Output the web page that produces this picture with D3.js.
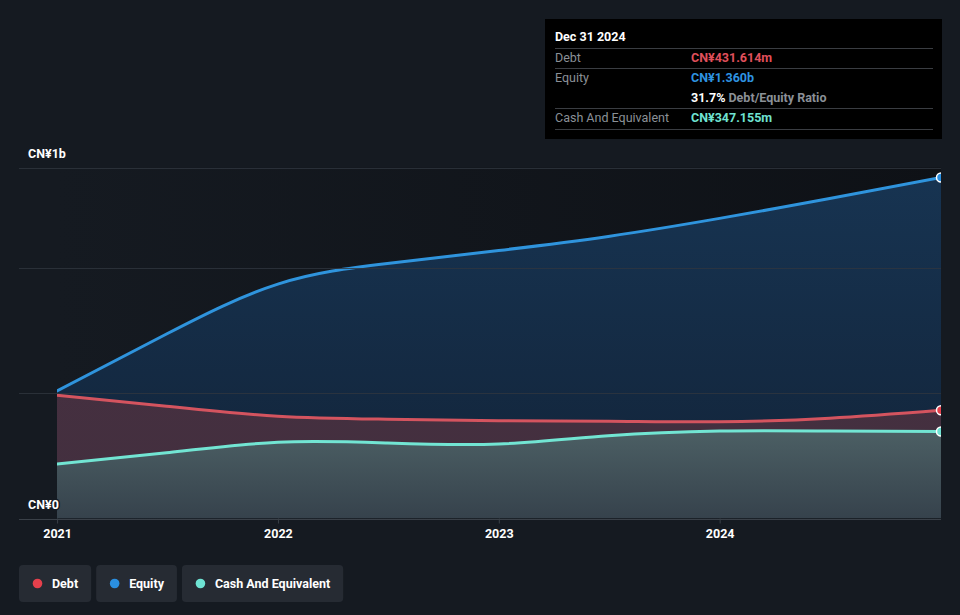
<!DOCTYPE html>
<html><head><meta charset="utf-8">
<script src="https://cdn.jsdelivr.net/npm/d3@7"></script>
<style>
html,body{margin:0;padding:0;background:#151a21;}
svg{display:block;font-family:Roboto,"Noto Sans",sans-serif;}
</style></head>
<body>
<svg id="c" width="960" height="615"></svg>
<script>
const dates = ["2020-12-31","2021-06-30","2021-12-31","2022-06-30","2022-12-31","2023-06-30","2023-12-31","2024-06-30","2024-12-31"];
const debt   = [492, 448, 408, 396, 390, 388, 386, 400, 431.614];   // CN¥ m
const equity = [509, 736, 935, 1017, 1069, 1125, 1197, 1276, 1360]; // CN¥ m
const cash   = [217, 262, 304, 301, 297, 330, 349, 349, 347.155];   // CN¥ m
const gridValues = [0, 500, 1000, 1400];
const yLabels = [{v:1400, t:"CN¥1b"}, {v:0, t:"CN¥0"}];
const xTickYears = ["2021","2022","2023","2024"];
const tooltipTitle = "Dec 31 2024";
const tooltipRows = [
  {label:"Debt", value:"CN¥431.614m", key:"debt"},
  {label:"Equity", value:"CN¥1.360b", key:"equity"},
  {label:"", value:"31.7%", extra:" Debt/Equity Ratio", key:"ratio"},
  {label:"Cash And Equivalent", value:"CN¥347.155m", key:"cash"}
];
const legendItems = [
  {name:"Debt", key:"debt"},
  {name:"Equity", key:"equity"},
  {name:"Cash And Equivalent", key:"cash"}
];

const colors = {debt:"#e0505c", equity:"#2e93e0", cash:"#6fe3d2", ratio:"#ffffff"};
const lineColors = {debt:"#d4545f", equity:"#2f94dd", cash:"#72e5d3"};
const dotColors = {debt:"#e5404c", equity:"#2a8fe0", cash:"#6ee3d3"};

const parse = d3.timeParse("%Y-%m-%d");
const data = dates.map((d,i)=>({date:parse(d), debt:debt[i], equity:equity[i], cash:cash[i]}));

const svg = d3.select("#c");
const x = d3.scaleTime().domain([parse("2020-12-31"), parse("2024-12-31")]).range([57, 941]);
const y = d3.scaleLinear().domain([0, 1400]).range([518.5, 167.5]);
const plotL = 19, plotR = 941;

const defs = svg.append("defs");
const bgGrad = defs.append("linearGradient").attr("id","bgG").attr("x1","0").attr("x2","1").attr("y1","0").attr("y2","0");
bgGrad.append("stop").attr("offset","0").attr("stop-color","#151a21");
bgGrad.append("stop").attr("offset","1").attr("stop-color","#0e1116");
function vGrad(id, top, bottom, y1, y2){
  const g = defs.append("linearGradient").attr("id",id).attr("gradientUnits","userSpaceOnUse")
    .attr("x1",0).attr("x2",0).attr("y1",y1).attr("y2",y2);
  g.append("stop").attr("offset","0").attr("stop-color",top);
  g.append("stop").attr("offset","1").attr("stop-color",bottom);
}
vGrad("eqG","#173452","#122338", y(1400), y(0));
vGrad("dbG","#4a3143","#422f3e", y(1400), y(0));
vGrad("caG","#506569","#36424c", y(420), y(0));
defs.append("clipPath").attr("id","clip").append("rect")
  .attr("x", x.range()[0]).attr("y", 150).attr("width", plotR - x.range()[0]).attr("height", y(0)-150);

// dark plot background
svg.append("rect").attr("x", x.range()[0]).attr("y", y(1400)).attr("width", plotR - x.range()[0])
  .attr("height", y(0)-y(1400)).attr("fill","url(#bgG)");

const curve = d3.curveNatural;
const g = svg.append("g").attr("clip-path","url(#clip)");
g.append("path").datum(data).attr("fill","url(#eqG)")
  .attr("d", d3.area().curve(curve).x(d=>x(d.date)).y0(d=>y(d.debt)).y1(d=>y(d.equity)));
g.append("path").datum(data).attr("fill","url(#dbG)")
  .attr("d", d3.area().curve(curve).x(d=>x(d.date)).y0(d=>y(d.cash)).y1(d=>y(d.debt)));
g.append("path").datum(data).attr("fill","url(#caG)")
  .attr("d", d3.area().curve(curve).x(d=>x(d.date)).y0(y(0)).y1(d=>y(d.cash)));

// grid
svg.append("g").selectAll("line").data(gridValues).join("line")
  .attr("x1", plotL).attr("x2", plotR).attr("y1", d=>Math.round(y(d))+0.5).attr("y2", d=>Math.round(y(d))+0.5)
  .attr("stroke", d=> d===0 ? "#3a4048" : "#30363e").attr("stroke-width",1)
  .attr("stroke-opacity", d=> d===0 ? 1 : 0.8);

// lines
["cash","debt","equity"].forEach(k=>{
  g.append("path").datum(data).attr("fill","none").attr("stroke", lineColors[k]).attr("stroke-width",3)
    .attr("stroke-linecap","round")
    .attr("d", d3.line().curve(curve).x(d=>x(d.date)).y(d=>y(d[k])));
});
// end markers
const last = data[data.length-1];
["cash","debt","equity"].forEach(k=>{
  g.append("circle").attr("cx", x(last.date)).attr("cy", y(last[k])).attr("r",4.5)
    .attr("fill", dotColors[k]).attr("stroke","#ffffff").attr("stroke-width",1.5);
});

// x axis ticks
const xa = svg.append("g");
xTickYears.forEach(yr=>{
  const xv = x(parse(yr+"-01-01"));
  xa.append("line").attr("x1",xv).attr("x2",xv).attr("y1",y(0)).attr("y2",y(0)+5).attr("stroke","#3a4048");
  xa.append("text").attr("x",xv).attr("y",538).attr("text-anchor","middle").attr("fill","#ffffff")
    .attr("font-size",12.5).attr("font-weight",700).text(yr);
});

// y labels
yLabels.forEach(l=>{
  svg.append("text").attr("x",28).attr("y", y(l.v)-9.5)
    .attr("fill","#ffffff").attr("font-size",12.5).attr("font-weight",700)
    .attr("stroke","#151a21").attr("stroke-width",3).attr("paint-order","stroke")
    .text(l.t);
});

// tooltip
const tt = svg.append("g");
tt.append("rect").attr("x",545).attr("y",19).attr("width",397).attr("height",120).attr("fill","#000000");
tt.append("text").attr("x",555).attr("y",41).attr("fill","#ffffff").attr("font-size",12.5).attr("font-weight",700).text(tooltipTitle);
[48.5, 68.5, 108.5, 129.5].forEach(yy=>{
  tt.append("line").attr("x1",555).attr("x2",933).attr("y1",yy).attr("y2",yy).attr("stroke","#3a3d42").attr("stroke-width",1.2);
});
const rowY = [62, 82, 101.5, 121.5];
tooltipRows.forEach((r,i)=>{
  if(r.label) tt.append("text").attr("x",555).attr("y",rowY[i]).attr("fill","#8b9097").attr("font-size",12.5).text(r.label);
  const t = tt.append("text").attr("x",691).attr("y",rowY[i]).attr("font-size",12.5).attr("font-weight",700);
  t.append("tspan").attr("fill", colors[r.key]).text(r.value);
  if(r.extra) t.append("tspan").attr("fill","#8b9097").text(r.extra);
});

// legend
const lg = svg.append("g");
let lx = 19;
legendItems.forEach(it=>{
  const tmp = lg.append("text").attr("font-size",12.5).attr("font-weight",700).text(it.name);
  const w = tmp.node().getComputedTextLength();
  tmp.remove();
  const bw = w + 46;
  const grp = lg.append("g").attr("transform",`translate(${lx},565)`);
  grp.append("rect").attr("width",bw).attr("height",37).attr("rx",4).attr("fill","#262b33");
  grp.append("circle").attr("cx",18.5).attr("cy",18.5).attr("r",4.8).attr("fill",dotColors[it.key]);
  grp.append("text").attr("x",33).attr("y",23).attr("fill","#ffffff").attr("font-size",12.5).attr("font-weight",700).text(it.name);
  lx += bw + 5;
});
</script>
</body></html>
